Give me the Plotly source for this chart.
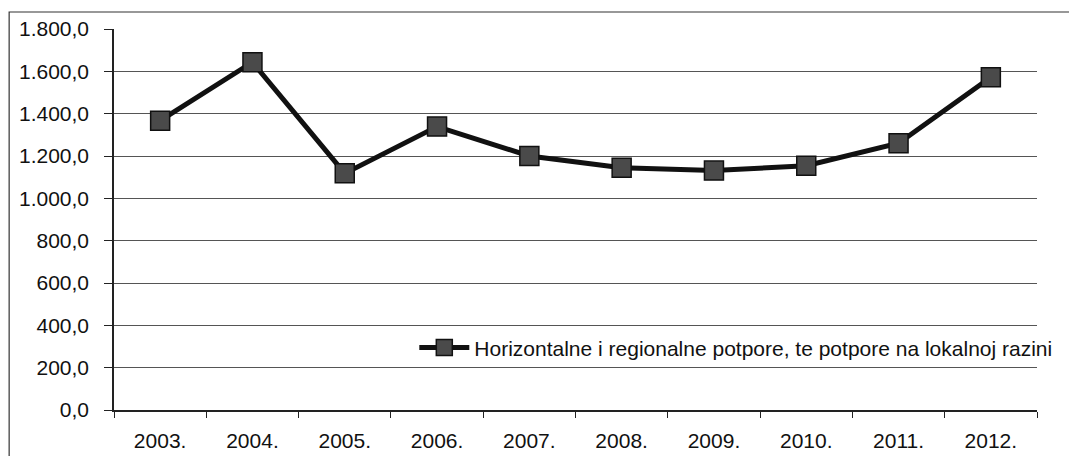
import plotly.graph_objects as go

years = ["2003.", "2004.", "2005.", "2006.", "2007.", "2008.", "2009.", "2010.", "2011.", "2012."]
values = [1367, 1643, 1118, 1339, 1200, 1145, 1131, 1154, 1260, 1572]
series_name = "Horizontalne i regionalne potpore, te potpore na lokalnoj razini"
y_ticks = [0, 200, 400, 600, 800, 1000, 1200, 1400, 1600, 1800]

FONT = "Liberation Sans Narrow, Arial Narrow, Liberation Sans, Arial"
FS = 21

fig = go.Figure()
fig.add_trace(go.Scatter(
    x=years, y=values, name=series_name, mode="lines+markers",
    line=dict(color="#111111", width=5),
    marker=dict(symbol="square", size=19, color="#4a4a4a", line=dict(color="#111111", width=1.5)),
    showlegend=True,
))

fig.update_layout(
    width=1069, height=456,
    margin=dict(l=114, r=22, t=29, b=46),
    paper_bgcolor="white", plot_bgcolor="white",
    separators=",.",
    font=dict(family=FONT, size=FS, color="#111111"),
    xaxis=dict(
        type="category", range=[-0.5, len(years) - 0.5],
        showgrid=False, showline=True, linecolor="#222222", linewidth=1.5,
        ticks="outside", ticklen=6, tickcolor="#222222", tickson="boundaries",
        ticklabelstandoff=11, tickfont=dict(size=FS, family=FONT),
        automargin=False,
    ),
    yaxis=dict(
        range=[0, 1800], tickvals=y_ticks, tickformat=",.1f",
        showgrid=True, gridcolor="#555555", gridwidth=1,
        showline=True, linecolor="#222222", linewidth=1.5,
        ticks="outside", ticklen=8, tickcolor="#222222",
        ticklabelstandoff=11, zeroline=False, tickfont=dict(size=FS, family=FONT),
        automargin=False,
    ),
    legend=dict(
        x=1.022, xanchor="right", y=0.163, yanchor="middle",
        bgcolor="rgba(0,0,0,0)", borderwidth=0, font=dict(size=FS, family=FONT),
        tracegroupgap=0, itemwidth=50,
    ),
    shapes=[dict(
        type="rect", xref="paper", yref="paper",
        x0=-0.1136, x1=1.05, y0=-0.2, y1=1.0446,
        line=dict(color="#333333", width=1.2), layer="below",
    )],
)

fig.write_html(
    "out.html",
    config={"displayModeBar": False},
    post_script="document.body.style.margin='0';document.body.style.overflow='hidden';",
)
